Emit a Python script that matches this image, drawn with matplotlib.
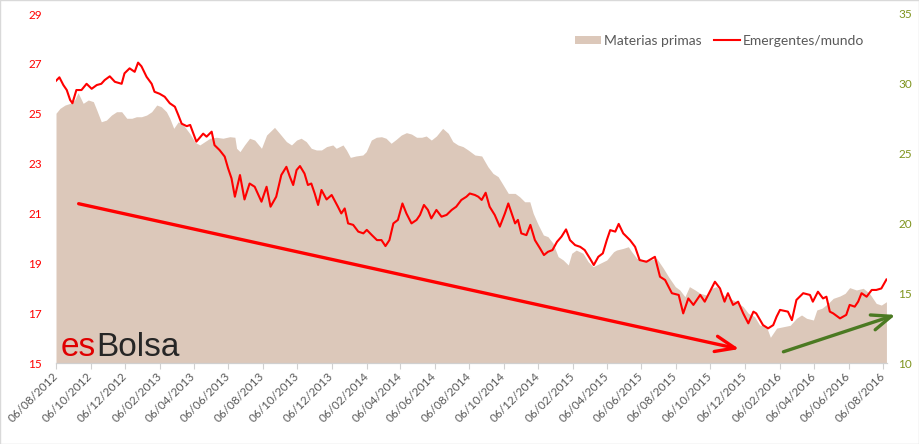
import pandas as pd
import matplotlib
matplotlib.use("Agg")
import matplotlib.pyplot as plt
import matplotlib.dates as mdates
from matplotlib.patches import Rectangle

# Emergentes/mundo (left axis)
em_dates = [
    "2012-08-06", "2012-08-12", "2012-08-19", "2012-08-25", "2012-08-31", "2012-09-04",
    "2012-09-11", "2012-09-20", "2012-09-29", "2012-10-08", "2012-10-17", "2012-10-25",
    "2012-10-31", "2012-11-09", "2012-11-18", "2012-11-30", "2012-12-05", "2012-12-14",
    "2012-12-23", "2012-12-29", "2013-01-04", "2013-01-13", "2013-01-22", "2013-01-27",
    "2013-02-05", "2013-02-14", "2013-02-23", "2013-03-04", "2013-03-10", "2013-03-16",
    "2013-03-25", "2013-03-31", "2013-04-11", "2013-04-23", "2013-04-29", "2013-05-08",
    "2013-05-13", "2013-05-22", "2013-05-31", "2013-06-06", "2013-06-12", "2013-06-18",
    "2013-06-27", "2013-07-05", "2013-07-14", "2013-07-23", "2013-08-04", "2013-08-13",
    "2013-08-20", "2013-08-30", "2013-09-08", "2013-09-17", "2013-09-23", "2013-09-29",
    "2013-10-05", "2013-10-11", "2013-10-19", "2013-10-25", "2013-10-31", "2013-11-06",
    "2013-11-12", "2013-11-18", "2013-11-27", "2013-12-06", "2013-12-17", "2013-12-23",
    "2013-12-29", "2014-01-04", "2014-01-13", "2014-01-22", "2014-01-31", "2014-02-06",
    "2014-02-15", "2014-02-24", "2014-03-04", "2014-03-11", "2014-03-18", "2014-03-25",
    "2014-04-02", "2014-04-10", "2014-04-17", "2014-04-26", "2014-05-05", "2014-05-11",
    "2014-05-18", "2014-05-25", "2014-05-31", "2014-06-09", "2014-06-18", "2014-06-27",
    "2014-07-06", "2014-07-14", "2014-07-23", "2014-08-01", "2014-08-07", "2014-08-16",
    "2014-08-22", "2014-08-28", "2014-09-04", "2014-09-11", "2014-09-20", "2014-09-29",
    "2014-10-08", "2014-10-14", "2014-10-20", "2014-10-26", "2014-10-31", "2014-11-06",
    "2014-11-15", "2014-11-22", "2014-11-30", "2014-12-09", "2014-12-16", "2014-12-23",
    "2014-12-31", "2015-01-08", "2015-01-16", "2015-01-24", "2015-01-31", "2015-02-09",
    "2015-02-18", "2015-02-26", "2015-03-07", "2015-03-14", "2015-03-22", "2015-03-30",
    "2015-04-06", "2015-04-12", "2015-04-21", "2015-04-27", "2015-05-05", "2015-05-17",
    "2015-05-26", "2015-06-03", "2015-06-15", "2015-06-30", "2015-07-09", "2015-07-18",
    "2015-07-30", "2015-08-11", "2015-08-19", "2015-08-28", "2015-09-06", "2015-09-18",
    "2015-09-26", "2015-10-05", "2015-10-14", "2015-10-23", "2015-10-31", "2015-11-06",
    "2015-11-15", "2015-11-24", "2015-12-03", "2015-12-12", "2015-12-21", "2015-12-26",
    "2016-01-07", "2016-01-16", "2016-01-25", "2016-01-31", "2016-02-06", "2016-02-20",
    "2016-02-27", "2016-03-06", "2016-03-18", "2016-03-30", "2016-04-04", "2016-04-13",
    "2016-04-22", "2016-04-28", "2016-05-04", "2016-05-10", "2016-05-22", "2016-06-02",
    "2016-06-08", "2016-06-17", "2016-06-23", "2016-06-29", "2016-07-08", "2016-07-17",
    "2016-07-25", "2016-08-03", "2016-08-12",
]
em_values = [
    26.32, 26.46, 26.15, 25.95, 25.55, 25.42,
    25.95, 25.95, 26.20, 26.00, 26.15, 26.20,
    26.35, 26.50, 26.28, 26.20, 26.62, 26.82,
    26.68, 27.05, 26.90, 26.48, 26.20, 25.88,
    25.80, 25.68, 25.42, 25.28, 24.95, 24.60,
    24.50, 24.55, 23.88, 24.20, 24.08, 24.28,
    23.74, 23.54, 23.28, 22.81, 22.41, 21.67,
    22.54, 21.56, 22.20, 22.07, 21.47, 22.07,
    21.27, 21.67, 22.54, 22.87, 22.48, 22.14,
    22.74, 22.90, 22.60, 22.14, 22.20, 21.80,
    21.34, 21.94, 21.56, 21.74, 21.27, 21.00,
    21.20, 20.60, 20.54, 20.27, 20.20, 20.34,
    20.13, 19.93, 19.93, 19.69, 19.93, 20.60,
    20.74, 21.40, 21.00, 20.60, 20.74, 20.94,
    21.34, 21.14, 20.80, 21.14, 20.87, 20.94,
    21.14, 21.27, 21.54, 21.67, 21.80, 21.74,
    21.67, 21.54, 21.83, 21.27, 20.94, 20.47,
    21.00, 21.40, 21.00, 20.60, 20.74, 20.20,
    20.13, 20.54, 19.93, 19.60, 19.33, 19.46,
    19.53, 19.86, 20.07, 20.36, 19.93, 19.73,
    19.66, 19.53, 19.20, 18.93, 19.26, 19.40,
    19.93, 20.33, 20.27, 20.58, 20.20, 19.93,
    19.66, 19.13, 19.06, 19.26, 18.46, 18.33,
    17.80, 17.73, 16.99, 17.59, 17.33, 17.73,
    17.46, 17.86, 18.26, 17.99, 17.46, 17.80,
    17.33, 17.46, 16.99, 16.59, 17.06, 16.99,
    16.52, 16.39, 16.52, 16.86, 17.13, 17.06,
    16.72, 17.53, 17.80, 17.73, 17.46, 17.86,
    17.59, 17.66, 17.06, 16.99, 16.79, 16.93,
    17.33, 17.26, 17.46, 17.80, 17.66, 17.93,
    17.93, 17.99, 18.35,
]

# Materias primas (right axis)
mp_dates = [
    "2012-08-06", "2012-08-13", "2012-08-22", "2012-08-31", "2012-09-08", "2012-09-14",
    "2012-09-23", "2012-10-02", "2012-10-11", "2012-10-17", "2012-10-25", "2012-11-03",
    "2012-11-12", "2012-11-21", "2012-11-30", "2012-12-09", "2012-12-18", "2012-12-26",
    "2013-01-04", "2013-01-13", "2013-01-22", "2013-01-31", "2013-02-08", "2013-02-17",
    "2013-02-23", "2013-03-02", "2013-03-10", "2013-03-19", "2013-03-31", "2013-04-09",
    "2013-04-17", "2013-05-05", "2013-05-16", "2013-05-28", "2013-06-09", "2013-06-18",
    "2013-06-21", "2013-06-27", "2013-07-05", "2013-07-14", "2013-07-23", "2013-08-04",
    "2013-08-13", "2013-08-27", "2013-09-05", "2013-09-17", "2013-09-26", "2013-10-05",
    "2013-10-13", "2013-10-22", "2013-10-31", "2013-11-09", "2013-11-18", "2013-11-27",
    "2013-12-08", "2013-12-14", "2013-12-26", "2014-01-01", "2014-01-08", "2014-01-18",
    "2014-01-30", "2014-02-05", "2014-02-14", "2014-02-23", "2014-03-04", "2014-03-12",
    "2014-03-21", "2014-03-30", "2014-04-08", "2014-04-17", "2014-04-26", "2014-05-05",
    "2014-05-14", "2014-05-22", "2014-05-31", "2014-06-09", "2014-06-20", "2014-06-30",
    "2014-07-08", "2014-07-17", "2014-07-26", "2014-08-04", "2014-08-16", "2014-08-28",
    "2014-09-08", "2014-09-17", "2014-09-26", "2014-10-05", "2014-10-14", "2014-10-26",
    "2014-11-03", "2014-11-12", "2014-11-21", "2014-11-27", "2014-12-06", "2014-12-15",
    "2014-12-23", "2015-01-01", "2015-01-10", "2015-01-19", "2015-01-28", "2015-02-03",
    "2015-02-11", "2015-02-23", "2015-03-04", "2015-03-13", "2015-03-25", "2015-04-06",
    "2015-04-18", "2015-04-23", "2015-05-05", "2015-05-14", "2015-05-20", "2015-05-29",
    "2015-06-10", "2015-06-22", "2015-07-03", "2015-07-15", "2015-07-24", "2015-08-05",
    "2015-08-13", "2015-08-22", "2015-08-30", "2015-09-09", "2015-09-18", "2015-09-29",
    "2015-10-08", "2015-10-17", "2015-10-29", "2015-11-09", "2015-11-21", "2015-12-03",
    "2015-12-12", "2015-12-23", "2016-01-01", "2016-01-13", "2016-01-20", "2016-01-31",
    "2016-02-12", "2016-02-24", "2016-03-06", "2016-03-15", "2016-03-24", "2016-04-05",
    "2016-04-11", "2016-04-20", "2016-05-01", "2016-05-10", "2016-05-22", "2016-05-31",
    "2016-06-08", "2016-06-20", "2016-07-02", "2016-07-13", "2016-07-25", "2016-08-03",
    "2016-08-12",
]
mp_values = [
    27.89, 28.24, 28.48, 28.60, 28.84, 29.36,
    28.60, 28.84, 28.72, 28.12, 27.28, 27.40,
    27.76, 28.00, 28.00, 27.53, 27.53, 27.64,
    27.64, 27.76, 28.00, 28.48, 28.36, 28.00,
    27.53, 26.81, 27.28, 27.05, 26.40, 25.80,
    25.62, 26.10, 26.17, 26.10, 26.21, 26.17,
    25.38, 25.14, 25.62, 26.10, 25.97, 25.38,
    26.33, 26.88, 26.45, 25.86, 25.62, 25.97,
    26.10, 25.86, 25.38, 25.26, 25.26, 25.50,
    25.62, 25.38, 25.62, 25.26, 24.73, 24.83,
    24.90, 25.14, 25.97, 26.17, 26.21, 26.10,
    25.74, 26.02, 26.33, 26.50, 26.40, 26.17,
    26.17, 26.26, 25.97, 26.26, 26.81, 26.45,
    25.86, 25.62, 25.50, 25.26, 24.90, 24.83,
    24.06, 23.58, 23.35, 22.75, 22.15, 22.15,
    21.91, 21.55, 21.55, 20.72, 19.89, 19.17,
    19.05, 18.58, 17.62, 17.38, 17.02, 17.86,
    18.09, 17.86, 17.26, 16.90, 17.14, 17.38,
    17.97, 18.09, 18.21, 18.33, 17.97, 17.50,
    17.38, 17.38, 17.50, 16.78, 16.18, 15.47,
    15.23, 14.75, 15.47, 15.23, 14.99, 14.87,
    15.35, 15.47, 14.87, 14.63, 14.39, 14.03,
    13.56, 13.32, 12.72, 12.60, 11.84, 12.50,
    12.60, 12.70, 13.20, 13.44, 13.20, 13.08,
    13.80, 13.92, 14.27, 14.63, 14.80, 14.99,
    15.40, 15.23, 15.35, 14.99, 14.27, 14.15,
    14.39,
]

left_ticks = [15, 17, 19, 21, 23, 25, 27, 29]
right_ticks = [10, 15, 20, 25, 30, 35]

# trend arrows drawn on the chart (date, left-axis value)
red_arrow = (("2012-09-15", 21.39), ("2015-11-26", 15.56))
green_arrow = (("2016-02-12", 15.45), ("2016-08-28", 16.93))

em = pd.Series(em_values, index=pd.to_datetime(em_dates))
mp = pd.Series(mp_values, index=pd.to_datetime(mp_dates))

RED = "#FF0000"
BEIGE = "#DCC8BA"
GREEN = "#4B7A22"
GREY = "#595959"
OLIVE = "#7F941E"

fig = plt.figure(figsize=(9.19, 4.44), dpi=100)
ax = fig.add_axes([56/919, 1 - 363/444, (887-56)/919, (363-14)/444])
ax2 = ax.twinx()
ax.set_zorder(ax2.get_zorder() + 1)
ax.patch.set_visible(False)

ax2.fill_between(mp.index, 10, mp.values, color=BEIGE, lw=0, label="Materias primas")
ax.plot(em.index, em.values, color=RED, lw=1.5, label="Emergentes/mundo")

ax.set_xlim(pd.Timestamp("2012-08-06"), pd.Timestamp("2016-08-13"))
ax.set_ylim(15, 29)
ax2.set_ylim(10, 35)
ax.set_yticks(left_ticks)
ax2.set_yticks(right_ticks)

ax.xaxis.set_major_locator(mdates.MonthLocator(bymonth=(2, 4, 6, 8, 10, 12), bymonthday=6))
ax.xaxis.set_major_formatter(mdates.DateFormatter("%d/%m/%Y"))

for a in (ax, ax2):
    for s in ("top", "left", "right"):
        a.spines[s].set_visible(False)
    a.spines["bottom"].set_color("#D0D0D0")

ax.tick_params(axis="y", length=0, pad=10, labelcolor=RED, labelsize=8.5)
ax2.tick_params(axis="y", length=0, pad=8, labelcolor=OLIVE, labelsize=8.5)
ax.tick_params(axis="x", length=4, width=0.8, color="#D0D0D0", labelcolor=GREY,
               labelsize=8.5, pad=4)
for lab in ax.get_xticklabels():
    lab.set_rotation(45)
    lab.set_ha("right")
    lab.set_va("center")
    lab.set_rotation_mode("anchor")
for lab in ax.get_xticklabels() + ax.get_yticklabels() + ax2.get_yticklabels():
    lab.set_fontfamily("Lato")

# legend
h1, l1 = ax2.get_legend_handles_labels()
h2, l2 = ax.get_legend_handles_labels()
leg = ax.legend(h1 + h2, l1 + l2, ncol=2, frameon=False, loc="center right",
                bbox_to_anchor=(0.988, 0.923), handlelength=1.9, handleheight=0.6,
                handletextpad=0.2, columnspacing=0.9,
                prop={"family": "Lato", "size": 10})
for t in leg.get_texts():
    t.set_color(GREY)

# arrows
for (p0, p1), col in ((red_arrow, RED), (green_arrow, GREEN)):
    ax.annotate("", xy=(mdates.datestr2num(p1[0]), p1[1]),
                xytext=(mdates.datestr2num(p0[0]), p0[1]),
                arrowprops=dict(arrowstyle="->,head_length=1.0,head_width=0.4",
                                color=col, lw=2.4, mutation_scale=14,
                                shrinkA=0, shrinkB=0),
                annotation_clip=False)

# esBolsa mark
t1 = ax.text(0.006, 0.0, "es", transform=ax.transAxes, color="#E00000",
             fontsize=24, family="Liberation Sans", va="bottom", ha="left")
ax.annotate("Bolsa", xy=(1, 0), xycoords=t1, color="#262626", fontsize=24,
            family="Liberation Sans", va="bottom", ha="left")

fig.patches.append(Rectangle((0.0005, 0.001), 0.999, 0.998, transform=fig.transFigure,
                             fill=False, ec="#D9D9D9", lw=1))

fig.savefig("out.png", dpi=100)
